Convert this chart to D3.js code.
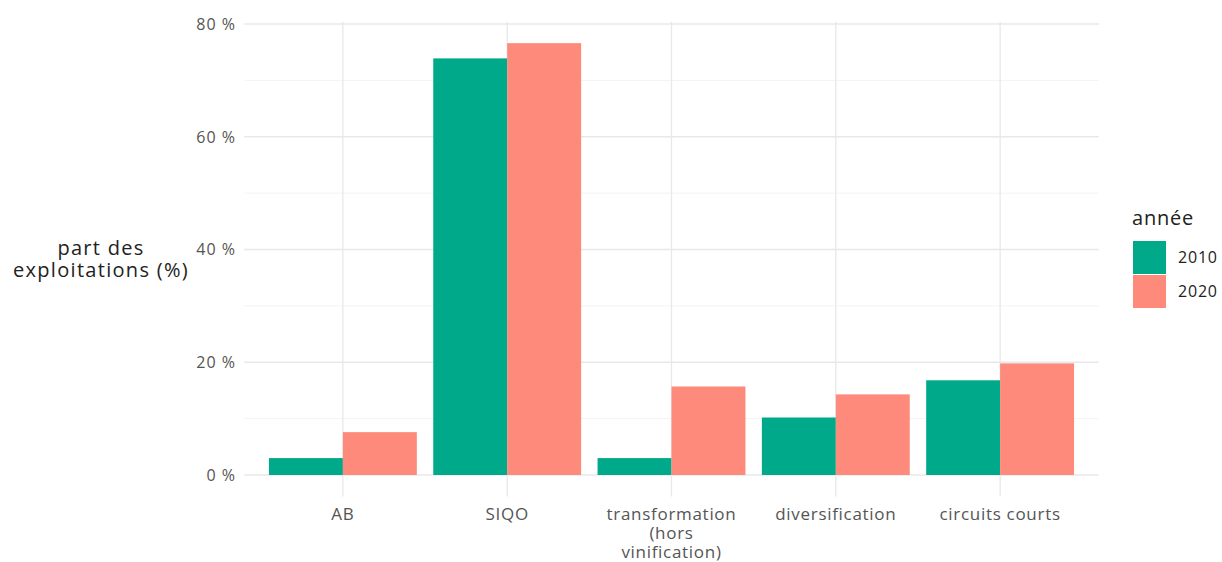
<!DOCTYPE html>
<html><head><meta charset="utf-8">
<script src="https://cdn.jsdelivr.net/npm/d3@7"></script>
<style>body{margin:0;background:#fff;} text{font-family:"Open Sans",Lato,sans-serif;}</style>
</head><body><svg id="c" width="1222" height="562"></svg>
<script>
const categories = ["AB","SIQO","transformation (hors vinification)","diversification","circuits courts"];
const categoryLines = [["AB"],["SIQO"],["transformation","(hors","vinification)"],["diversification"],["circuits courts"]];
const years = ["2010","2020"];
const values2010 = [3.0, 73.9, 3.0, 10.2, 16.8];
const values2020 = [7.6, 76.6, 15.7, 14.3, 19.8];
const yTicks = [0,20,40,60,80];
const yMinor = [10,30,50,70];
const colors = ["#00a98a","#fd8a7a"];

const svg = d3.select("#c");
const y = d3.scaleLinear().domain([0,80]).range([475,24]);
const panelTop = y(80.4), panelBottom = y(-3.83);
const panelLeft = 244.3, panelRight = 1098.7;
const step = (panelRight-panelLeft)/5.2;
const x = d3.scalePoint().domain(categories).range([panelLeft+0.6*step, panelRight-0.6*step]);
const xb = d3.scaleBand().domain(years).range([-step*0.45, step*0.45]);

const g = svg.append("g");
g.selectAll(".minor").data(yMinor).join("line")
  .attr("x1",panelLeft).attr("x2",panelRight).attr("y1",d=>y(d)).attr("y2",d=>y(d))
  .attr("stroke","#f3f3f3").attr("stroke-width",1);
g.selectAll(".major").data(yTicks).join("line")
  .attr("x1",panelLeft).attr("x2",panelRight).attr("y1",d=>y(d)).attr("y2",d=>y(d))
  .attr("stroke","#e8e8e8").attr("stroke-width",1.3);
g.selectAll(".vmajor").data(categories).join("line")
  .attr("x1",d=>x(d)).attr("x2",d=>x(d)).attr("y1",panelTop).attr("y2",panelBottom)
  .attr("stroke","#e8e8e8").attr("stroke-width",1.3);

const series = [values2010, values2020];
series.forEach((vals,i)=>{
  g.selectAll(".b"+i).data(categories).join("rect")
    .attr("x",d=>x(d)+xb(years[i]))
    .attr("width",xb.bandwidth())
    .attr("y",(d,j)=>y(vals[j]))
    .attr("height",(d,j)=>y(0)-y(vals[j]))
    .attr("fill",colors[i]);
});

g.selectAll(".yl").data(yTicks).join("text")
  .attr("x",236).attr("y",d=>y(d)).attr("dy","0.36em")
  .attr("text-anchor","end").attr("font-size",16).attr("letter-spacing",1).attr("fill","#555")
  .text(d=>d+" %");

categories.forEach((c,i)=>{
  const t = g.append("text").attr("text-anchor","middle").attr("font-size",17).attr("letter-spacing",0.7).attr("fill","#555");
  categoryLines[i].forEach((ln,k)=>{
    t.append("tspan").attr("x",x(c)).attr("y",520+k*19).text(ln);
  });
});

const yt = g.append("text").attr("text-anchor","middle").attr("font-size",20).attr("letter-spacing",1.3).attr("fill","#222");
yt.append("tspan").attr("x",101).attr("y",255).text("part des");
yt.append("tspan").attr("x",101).attr("y",277).text("exploitations (%)");

g.append("text").attr("x",1132).attr("y",225).attr("font-size",20).attr("letter-spacing",0.8).attr("fill","#222").text("année");
years.forEach((yr,i)=>{
  g.append("rect").attr("x",1133).attr("y",241+i*34).attr("width",33).attr("height",33).attr("fill",colors[i]);
  g.append("text").attr("x",1178).attr("y",257.5+i*34).attr("dy","0.36em").attr("font-size",16).attr("letter-spacing",0.8).attr("fill","#222").text(yr);
});
</script></body></html>
